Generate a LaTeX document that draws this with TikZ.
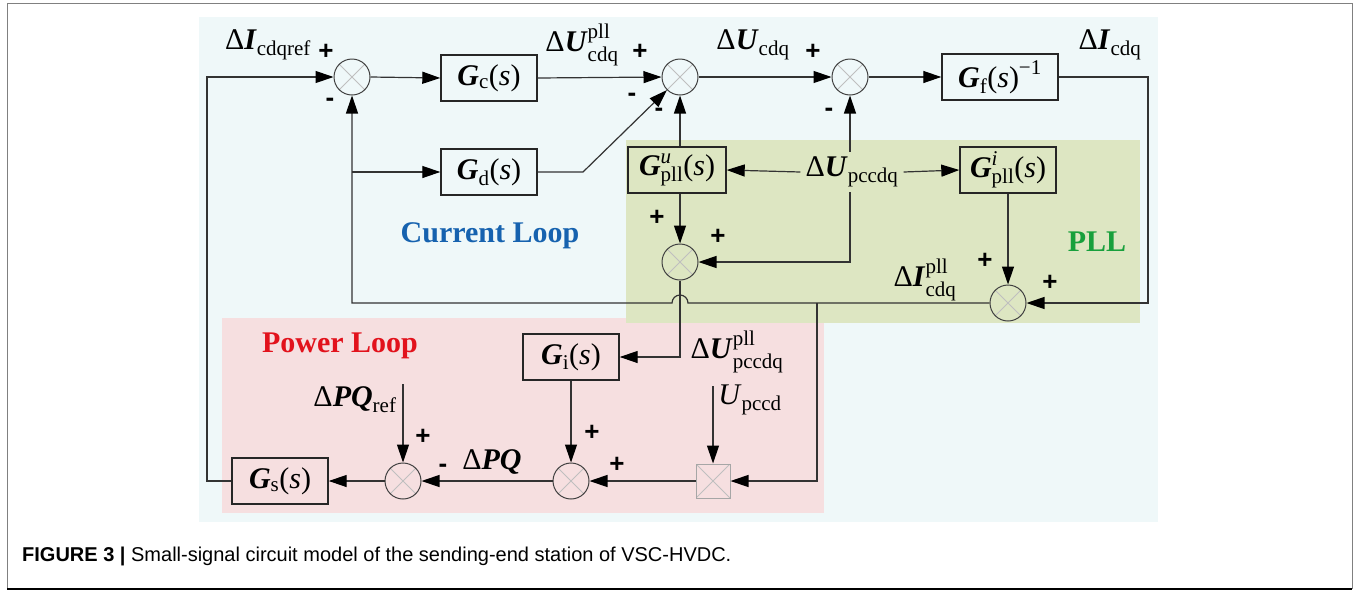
\documentclass[tikz,border=0pt]{standalone}
\usepackage{amsmath}
\usepackage{fontspec}
\setmainfont{Liberation Serif}
\newfontfamily\capfont{Liberation Sans}
\usetikzlibrary{arrows.meta}
\definecolor{bgc}{RGB}{239,248,249}
\definecolor{bgg}{RGB}{221,230,194}
\definecolor{bgp}{RGB}{246,223,224}
\definecolor{tblue}{RGB}{22,98,175}
\definecolor{tred}{RGB}{226,18,28}
\definecolor{tgreen}{RGB}{24,160,60}
\newcommand{\bi}[1]{\textbf{\textit{#1}}}
\newcommand{\dl}{\text{Δ}}
\tikzset{
  ln/.style={draw=black!80, line width=1.2pt},
  arr/.style={ln, -{Triangle[length=18pt,width=12pt,color=black,fill=black]}},
  blk/.style={draw=black!85, line width=1.4pt, minimum width=96pt, minimum height=46pt, inner sep=0pt, font=\fontsize{30}{36}\selectfont},
  xpic/.style={path picture={\draw[black!25, line width=0.8pt] (path picture bounding box.north east) -- (path picture bounding box.south west) (path picture bounding box.north west) -- (path picture bounding box.south east);}},
  sumj/.style={circle, draw=black!75, line width=1pt, minimum size=36pt, inner sep=0pt, xpic},
  mulj/.style={rectangle, draw=black!35, line width=1pt, minimum size=34pt, inner sep=0pt, xpic},
  sg/.style={font=\capfont\bfseries\fontsize{26}{28}\selectfont, inner sep=0pt},
  lbl/.style={font=\fontsize{30}{36}\selectfont, inner sep=3pt},
  ttl/.style={font=\bfseries\fontsize{30}{36}\selectfont, inner sep=0pt}
}
\begin{document}
\begin{tikzpicture}[x=1pt,y=-1pt]
\useasboundingbox (0,0) rectangle (1365,590);
% frame
\draw[black!50, line width=1pt] (7,589) -- (7,3) -- (1352,3) -- (1352,589);
\draw[black, line width=2pt] (7,589) -- (1352,589);
% backgrounds
\fill[bgc] (199,17) rectangle (1158,522);
\fill[bgp] (222,318) rectangle (824,513);
\fill[bgg] (626,140) rectangle (1140,323);
% junctions
\node[sumj] (S1) at (352,77) {};
\node[sumj] (S2) at (680,77) {};
\node[sumj] (S3) at (850,77) {};
\node[sumj] (S4) at (680,262) {};
\node[sumj] (S5) at (1008,303) {};
\node[sumj] (S6) at (403,481) {};
\node[sumj] (S7) at (571,481) {};
\node[mulj] (M) at (713,481) {};
% blocks
\node[blk] (Gc) at (489,78) {$\text{\bi{G}}_{\text{c}}\text{(\textit{s})}$};
\node[blk] (Gd) at (489,172) {$\text{\bi{G}}_{\text{d}}\text{(\textit{s})}$};
\node[blk, minimum width=116pt] (Gf) at (1000,77) {$\text{\bi{G}}_{\text{f}}\text{(\textit{s})}^{\text{−1}}$};
\node[blk, minimum width=98pt] (Gpu) at (677,170) {$\text{\bi{G}}^{\text{\textit{u}}}_{\text{pll}}\text{(\textit{s})}$};
\node[blk] (Gpi) at (1008,170) {$\text{\bi{G}}^{\text{\textit{i}}}_{\text{pll}}\text{(\textit{s})}$};
\node[blk] (Gi) at (571,357) {$\text{\bi{G}}_{\text{i}}\text{(\textit{s})}$};
\node[blk] (Gs) at (280,481) {$\text{\bi{G}}_{\text{s}}\text{(\textit{s})}$};
% signal labels
\node[lbl] (Lref) at (268,45) {$\dl\text{\bi{I}}_{\text{cdqref}}$};
\node[lbl] (Lucp) at (582,45) {$\dl\text{\bi{U}}^{\text{pll}}_{\text{cdq}}$};
\node[lbl] (Luc) at (753,45) {$\dl\text{\bi{U}}_{\text{cdq}}$};
\node[lbl] (Lic) at (1110,45) {$\dl\text{\bi{I}}_{\text{cdq}}$};
\node[lbl, inner sep=5pt] (Up) at (852,172) {$\dl\text{\bi{U}}_{\text{pccdq}}$};
\node[lbl] (Licp) at (925,280) {$\dl\text{\bi{I}}^{\text{pll}}_{\text{cdq}}$};
\node[lbl] (Lupp) at (737,352) {$\dl\text{\bi{U}}^{\text{pll}}_{\text{pccdq}}$};
\node[lbl] (Lpqr) at (355,400) {$\dl\text{\bi{PQ}}_{\text{ref}}$};
\node[lbl] (Lupd) at (750,400) {$\text{\textit{U}}_{\text{pccd}}$};
\node[lbl] (Lpq) at (492,462) {$\dl\text{\bi{PQ}}$};
% titles
\node[ttl, text=tblue] (T1) at (490,236) {Current Loop};
\node[ttl, text=tgreen] (T2) at (1097,242) {PLL};
\node[ttl, text=tred] (T3) at (340,346) {Power Loop};
% signs
\node[sg] (p1) at (326,52) {+};
\node[sg] (m1) at (330,102) {-};
\node[sg] (p2) at (640,52) {+};
\node[sg] (m2) at (632,97) {-};
\node[sg] (m3) at (659,112) {-};
\node[sg] (p3) at (813,52) {+};
\node[sg] (m4) at (829,112) {-};
\node[sg] (p4) at (657,218) {+};
\node[sg] (p5) at (718,237) {+};
\node[sg] (p6) at (985,261) {+};
\node[sg] (p7) at (1050,283) {+};
\node[sg] (p8) at (423,437) {+};
\node[sg] (m5) at (443,468) {-};
\node[sg] (p9) at (592,433) {+};
\node[sg] (p10) at (617,465) {+};
% coordinates
\coordinate (fbL) at (352,303);
\coordinate (brD) at (352,172);
\coordinate (brM) at (817,303);
\coordinate (brM2) at (817,481);
\coordinate (rT) at (1148,77);
\coordinate (rB) at (1148,303);
\coordinate (lB) at (207,481);
\coordinate (lT) at (207,77);
\coordinate (gdk) at (583,172);
\coordinate (s4d) at (680,357);
\coordinate (pqin) at (403,384);
\coordinate (uin) at (713,386);
\coordinate (upc) at (850,262);
% connectors
\draw[arr] (S1.east) -- (Gc.west);
\draw[arr] (Gc.east) -- (S2.west);
\draw[arr] (S2.east) -- (S3.west);
\draw[arr] (S3.east) -- (Gf.west);
\draw[arr] (Gf.east) -- (rT) -- (rB) -- (S5.east);
\draw[arr] (S5.west) -- (688,303) arc[start angle=0,end angle=180,radius=8pt] -- (fbL) -- (S1.south);
\draw[arr] (brD) -- (Gd.west);
\draw[arr] (Gd.east) -- (gdk) -- (S2.south west);
\draw[arr] (Gpu.north -| S2) -- (S2.south);
\draw[arr] (Up.north -| S3) -- (S3.south);
\draw[arr] (Up.west) -- (Gpu.east);
\draw[arr] (Up.east) -- (Gpi.west);
\draw[arr] (Gpu.south -| S4) -- (S4.north);
\draw[arr] (Up.south -| S3) -- (upc) -- (S4.east);
\draw[arr] (Gpi.south) -- (S5.north);
\draw[arr] (S4.south) -- (s4d) -- (Gi.east);
\draw[arr] (Gi.south) -- (S7.north);
\draw[arr] (brM) -- (brM2) -- (M.east);
\draw[arr] (uin) -- (M.north);
\draw[arr] (M.west) -- (S7.east);
\draw[arr] (S7.west) -- (S6.east);
\draw[arr] (pqin) -- (S6.north);
\draw[arr] (S6.west) -- (Gs.east);
\draw[arr] (Gs.west) -- (lB) -- (lT) -- (S1.west);
% caption
\node[anchor=west, inner sep=0pt, font=\capfont\fontsize{20}{24}\selectfont] (cap) at (22,556) {\textbf{FIGURE 3 |} Small-signal circuit model of the sending-end station of VSC-HVDC.};
\end{tikzpicture}
\end{document}
